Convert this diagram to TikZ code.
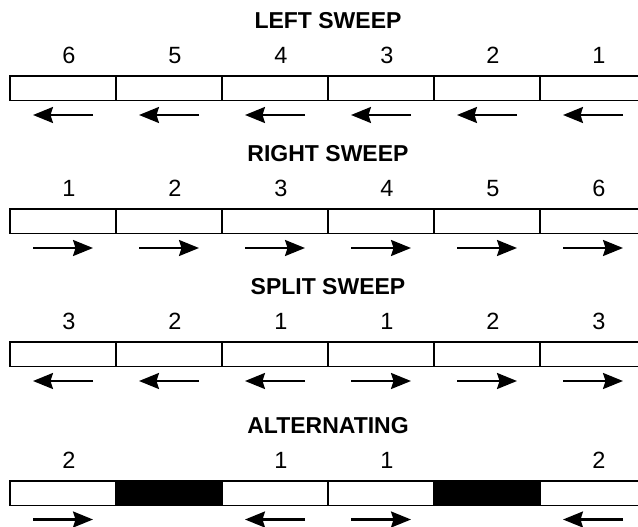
\documentclass[tikz,border=0pt]{standalone}
\usepackage{fontspec}
\setmainfont{Liberation Sans}
\usetikzlibrary{arrows.meta}

\tikzset{
  cell/.style={draw=black, line width=1.5pt, minimum width=106pt, minimum height=24.5pt,
               inner sep=0pt, outer sep=0pt, fill=white},
  blackcell/.style={cell, fill=black},
  num/.style={inner sep=0pt, anchor=base, font=\fontsize{23.5}{27}\selectfont},
  title/.style={inner sep=0pt, anchor=base, font=\fontsize{23}{27}\selectfont\bfseries},
  sweep/.style={line width=2.2pt, -{Stealth[length=20pt, width=16pt, inset=2.5pt]}}
}

\begin{document}
\begin{tikzpicture}[x=1pt, y=-1pt]
  \useasboundingbox (0,0) rectangle (638,527);
  \clip (0,0) rectangle (638,527);

  % row tops (y of the upper edge of each strip)
  \def\rowA{76}
  \def\rowB{209}
  \def\rowC{342}
  \def\rowD{481}

  % ---------- LEFT SWEEP ----------
  \node[title] (tA) at (328,\rowA-47.7) {LEFT SWEEP};
  \foreach \i/\n in {1/6,2/5,3/4,4/3,5/2,6/1}{
    \pgfmathsetmacro{\cx}{10+106*(\i-0.5)}
    \node[cell] (a\i) at (\cx,\rowA+12.25) {};
    \node[num] (na\i) at (\cx+6,\rowA-12.5) {\n};
    \coordinate (aL\i) at (\cx-30,\rowA+39);
    \coordinate (aR\i) at (\cx+30,\rowA+39);
    \draw[sweep] (aR\i) -- (aL\i);
  }

  % ---------- RIGHT SWEEP ----------
  \node[title] (tB) at (328,\rowB-47.7) {RIGHT SWEEP};
  \foreach \i/\n in {1/1,2/2,3/3,4/4,5/5,6/6}{
    \pgfmathsetmacro{\cx}{10+106*(\i-0.5)}
    \node[cell] (b\i) at (\cx,\rowB+12.25) {};
    \node[num] (nb\i) at (\cx+6,\rowB-12.5) {\n};
    \coordinate (bL\i) at (\cx-30,\rowB+39);
    \coordinate (bR\i) at (\cx+30,\rowB+39);
    \draw[sweep] (bL\i) -- (bR\i);
  }

  % ---------- SPLIT SWEEP ----------
  \node[title] (tC) at (328,\rowC-47.7) {SPLIT SWEEP};
  \foreach \i/\n in {1/3,2/2,3/1,4/1,5/2,6/3}{
    \pgfmathsetmacro{\cx}{10+106*(\i-0.5)}
    \node[cell] (c\i) at (\cx,\rowC+12.25) {};
    \node[num] (nc\i) at (\cx+6,\rowC-12.5) {\n};
    \coordinate (cL\i) at (\cx-30,\rowC+39);
    \coordinate (cR\i) at (\cx+30,\rowC+39);
  }
  \foreach \i in {1,2,3}{\draw[sweep] (cR\i) -- (cL\i);}
  \foreach \i in {4,5,6}{\draw[sweep] (cL\i) -- (cR\i);}

  % ---------- ALTERNATING ----------
  \node[title] (tD) at (328,\rowD-47.7) {ALTERNATING};
  \foreach \i in {1,...,6}{
    \pgfmathsetmacro{\cx}{10+106*(\i-0.5)}
    \coordinate (dL\i) at (\cx-30,\rowD+38.5);
    \coordinate (dR\i) at (\cx+30,\rowD+38.5);
  }
  \foreach \i/\st in {1/cell,2/blackcell,3/cell,4/cell,5/blackcell,6/cell}{
    \pgfmathsetmacro{\cx}{10+106*(\i-0.5)}
    \node[\st] (d\i) at (\cx,\rowD+12.25) {};
  }
  \foreach \i/\n in {1/2,3/1,4/1,6/2}{
    \pgfmathsetmacro{\cx}{10+106*(\i-0.5)}
    \node[num] (nd\i) at (\cx+6,\rowD-12.5) {\n};
  }
  \draw[sweep] (dL1) -- (dR1);
  \draw[sweep] (dR3) -- (dL3);
  \draw[sweep] (dL4) -- (dR4);
  \draw[sweep] (dR6) -- (dL6);
\end{tikzpicture}
\end{document}
